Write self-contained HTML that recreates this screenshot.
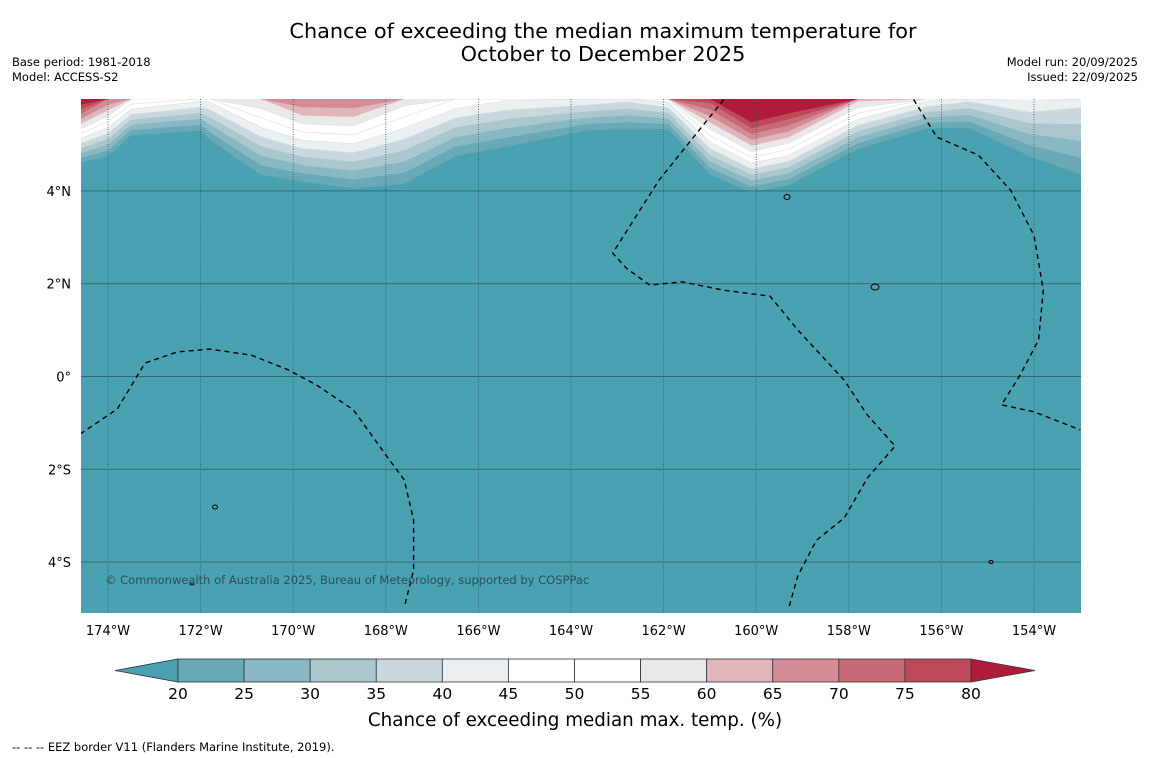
<!DOCTYPE html>
<html><head><meta charset="utf-8">
<style>
body{margin:0;background:#fff;width:1150px;height:758px;overflow:hidden;font-family:"DejaVu Sans","Liberation Sans",sans-serif;}
svg{display:block}
</style></head>
<body>
<svg id="chart" width="1150" height="758" xmlns="http://www.w3.org/2000/svg" font-family="DejaVu Sans, Liberation Sans, sans-serif">
<text x="603" y="38" text-anchor="middle" font-size="20.8">Chance of exceeding the median maximum temperature for</text>
<text x="603" y="61" text-anchor="middle" font-size="20.8">October to December 2025</text>
<text x="12" y="66" font-size="11.5">Base period: 1981-2018</text>
<text x="12" y="81" font-size="11.5">Model: ACCESS-S2</text>
<text x="1138" y="66" font-size="11.5" text-anchor="end">Model run: 20/09/2025</text>
<text x="1138" y="81" font-size="11.5" text-anchor="end">Issued: 22/09/2025</text>
<defs><clipPath id="mapclip"><rect x="81" y="99" width="1000" height="514"/></clipPath></defs>
<g id="map" clip-path="url(#mapclip)"></g>
<g id="axes"></g>
<g id="cbar"></g>
<text x="575" y="726" text-anchor="middle" font-size="18.3">Chance of exceeding median max. temp. (%)</text>
<text x="12" y="751" font-size="11.5">--  --  -- EEZ border V11 (Flanders Marine Institute, 2019).</text>
</svg>
<script>
// ---- data ----
const sampleLons = [-174.6,-174,-173.5,-172,-171.8,-170.7,-169.8,-168.7,-167.6,-166.5,-165.4,-163.7,-162.8,-161.9,-161.0,-160.1,-159.3,-157.8,-156.3,-155.4,-154.1,-152.7];
const edgeLats   = [4.6,4.75,5.2,5.3,5.1,4.35,4.2,4.05,4.15,4.75,4.95,5.3,5.33,5.33,4.35,3.97,4.12,4.9,5.35,5.35,4.75,4.25];
const topValues  = [86,70,55,47,47,60,70,70,58,50,46,45,42,48,78,100,92,62,47,42,46,42];
const levels = [20,25,30,35,40,45,50,55,60,65,70,75,80];
const bandColors = ["#69a9b6","#88b8c3","#a9c7cd","#c9d8dd","#eaf0f2","#ffffff","#ffffff","#ebe8ea","#e0b6bc","#d48b95","#c86a76","#bd4a5a","#ae1c3a"];
const baseColor = "#4aa1b2";
const lonTicks = [-174,-172,-170,-168,-166,-164,-162,-160,-158,-156,-154];
const latTicks = [4,2,0,-2,-4];
const cbarTicks = ["20","25","30","35","40","45","50","55","60","65","70","75","80"];
const eezA_lon=[-174.6,-173.8,-173.2,-172.5,-171.8,-170.9,-170.1,-169.5,-168.7,-168.0,-167.6,-167.4,-167.4,-167.6];
const eezA_lat=[-1.24,-0.70,0.29,0.53,0.59,0.46,0.14,-0.18,-0.72,-1.69,-2.23,-3.09,-4.17,-4.97];
const eezB_lon=[-160.7,-162.1,-163.1,-162.8,-162.3,-161.6,-160.7,-159.7,-159.1,-158.1,-157.6,-157.0,-157.6,-158.1,-158.7,-159.1,-159.3];
const eezB_lat=[5.97,4.23,2.66,2.33,1.97,2.04,1.86,1.73,1.00,-0.08,-0.83,-1.50,-2.19,-3.05,-3.53,-4.29,-5.0];
const eezC_lon=[-156.6,-156.1,-155.2,-154.5,-154.0,-153.8,-153.9,-154.3,-154.7,-154.0,-153.0];
const eezC_lat=[5.97,5.16,4.77,4.01,3.04,1.86,0.79,0.03,-0.61,-0.76,-1.15];
// ---- scales ----
const X = lon => 108 + (lon + 174) * 46.3;
const Y = lat => 376.5 - lat * 46.4;
const NS="http://www.w3.org/2000/svg";
function mk(tag, attrs, parent){const e=document.createElementNS(NS,tag);for(const k in attrs)e.setAttribute(k,attrs[k]);parent.appendChild(e);return e;}
const map=document.getElementById('map');
const bg=mk('rect',{x:81,y:99,width:1000,height:514,fill:baseColor},map);


const topY=99;
levels.forEach((L,i)=>{
  let pts=[];
  sampleLons.forEach((lon,j)=>{
    const edge=Y(edgeLats[j]);const tv=topValues[j];
    let y = tv<=L ? topY : edge - (L-20)/(tv-20)*(edge-topY);
    pts.push(X(lon).toFixed(1)+','+y.toFixed(1));
  });
  pts.push(X(sampleLons[sampleLons.length-1])+','+(topY-5));
  pts.push(X(sampleLons[0])+','+(topY-5));
  const p=mk('polygon',{points:pts.join(' '),fill:bandColors[i],stroke:(i>=4&&i<=7)?'#d6dee2':'none','stroke-width':0.6},map);
  
  
});
// grid
lonTicks.forEach(lon=>{
  const l=mk('line',{x1:X(lon),x2:X(lon),y1:99,y2:613,stroke:'#2f5560','stroke-width':0.8,'stroke-dasharray':'1,1.5'},map);
  
  
});
latTicks.forEach(lat=>{
  const l=mk('line',{x1:81,x2:1081,y1:Y(lat),y2:Y(lat),stroke:'#2f6570','stroke-width':0.9},map);
  
  
});
// EEZ
[[eezA_lon,eezA_lat],[eezB_lon,eezB_lat],[eezC_lon,eezC_lat]].forEach(([lo,la],k)=>{
  const pts=lo.map((v,i)=>X(v).toFixed(1)+','+Y(la[i]).toFixed(1)).join(' ');
  const pl=mk('polyline',{points:pts,fill:'none',stroke:'#000','stroke-width':1.4,'stroke-dasharray':'5,4'},map);
  
  
});
// islands
[[787,197,3,2.5],[875,287,4,3],[215,507,2.5,2],[991,562,2,1.5],[192,584,2,1]].forEach(d=>{
  const e=mk('ellipse',{cx:d[0],cy:d[1],rx:d[2],ry:d[3],fill:'none',stroke:'#000','stroke-width':1},map);
  
  
});
const cp=mk('text',{x:105,y:584,'font-size':11.5,fill:'#2a4e57'},map);cp.textContent='© Commonwealth of Australia 2025, Bureau of Meteorology, supported by COSPPac';


// axes labels
const axes=document.getElementById('axes');
lonTicks.forEach(lon=>{
  const t=mk('text',{x:X(lon),y:635,'text-anchor':'middle','font-size':13},axes);
  t.textContent=Math.abs(lon)+'°W';
  
  
});
latTicks.forEach(lat=>{
  const t=mk('text',{x:71,y:Y(lat)+5,'text-anchor':'end','font-size':13},axes);
  t.textContent= lat===0?'0°':Math.abs(lat)+'°'+(lat>0?'N':'S');
  
  
});
// colorbar
const cb=document.getElementById('cbar');
const cx0=178,cw=(971-178)/12,cy=659,ch=23;
const lt=mk('polygon',{points:`115,670.5 ${cx0},${cy} ${cx0},${cy+ch}`,fill:baseColor,stroke:'#333','stroke-width':0.8},cb);


for(let i=0;i<12;i++){
  const r=mk('rect',{x:cx0+i*cw,y:cy,width:cw,height:ch,fill:bandColors[i],stroke:'#333','stroke-width':0.8},cb);
  
  
}
const rt=mk('polygon',{points:`971,${cy} 1035,670.5 971,${cy+ch}`,fill:bandColors[12],stroke:'#333','stroke-width':0.8},cb);


cbarTicks.forEach((s,i)=>{
  const t=mk('text',{x:cx0+i*cw,y:699,'text-anchor':'middle','font-size':15.5},cb);
  t.textContent=s;
  
  
});
</script>
</body></html>
